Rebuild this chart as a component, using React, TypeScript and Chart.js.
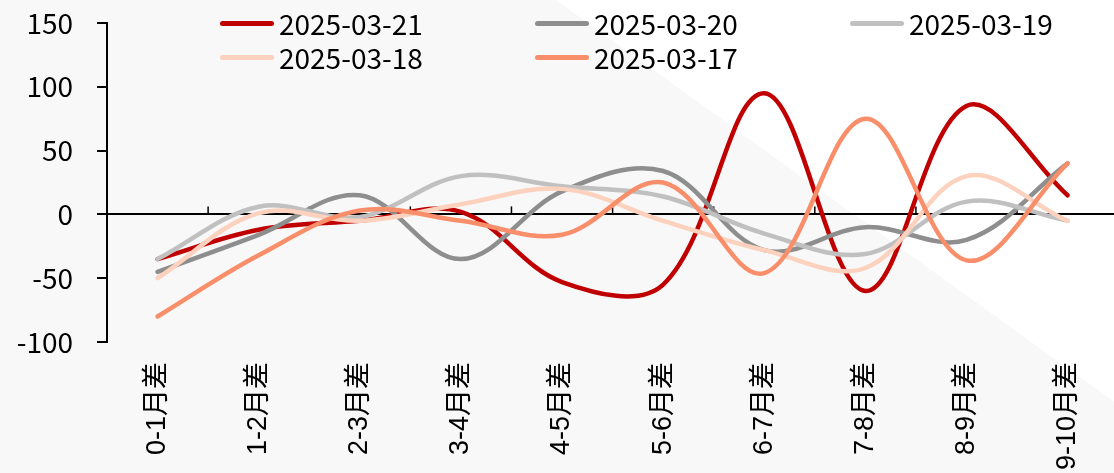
import React, { useEffect, useRef } from 'react';
import Chart from 'chart.js/auto';

// Month-spread categories along the x axis
const categories = ['0-1月差', '1-2月差', '2-3月差', '3-4月差', '4-5月差', '5-6月差', '6-7月差', '7-8月差', '8-9月差', '9-10月差'];

// One series per trading date
const seriesLabels = ['2025-03-21', '2025-03-20', '2025-03-19', '2025-03-18', '2025-03-17'];
const spread0321 = [-35, -12, -5, 2, -53, -55, 95, -60, 85, 15];
const spread0320 = [-45, -16, 15, -35, 18, 34, -28, -10, -20, 40];
const spread0319 = [-35, 6, -2, 30, 22, 14, -15, -31, 10, -5];
const spread0318 = [-50, 1, -5, 8, 20, -5, -28, -42, 30, -5];
const spread0317 = [-80, -32, 3, -5, -16, 25, -46, 75, -36, 40];
const seriesValues = [spread0321, spread0320, spread0319, spread0318, spread0317];

// Value axis range
const yMin = -100;
const yMax = 150;
const yStep = 50;

const seriesColors = ['#C00000', '#8E8E8E', '#C0C0C0', '#FCD1BD', '#F98E6A'];

const NUM_FONT = '"Noto Sans CJK SC", "Noto Sans", sans-serif';
const CAT_FONT = '"Liberation Sans", "Noto Sans CJK SC", sans-serif';

const CANVAS_W = 1120;
const CANVAS_H = 473;

// Soft two-tone backdrop: white sheet with a pale grey wedge on the left/bottom
const backdropPlugin = {
  id: 'backdrop',
  beforeDraw(chart: any) {
    const { ctx, width, height } = chart;
    ctx.save();
    ctx.fillStyle = '#ffffff';
    ctx.fillRect(0, 0, width, height);
    ctx.fillStyle = '#f8f8f8';
    ctx.beginPath();
    ctx.moveTo(0, 0);
    ctx.lineTo(556, 0);
    ctx.lineTo(width, 0.72 * (width - 556));
    ctx.lineTo(width, height);
    ctx.lineTo(0, height);
    ctx.closePath();
    ctx.fill();
    ctx.restore();
  },
};

// Small upward tick marks on the zero line between categories
const zeroTicksPlugin = {
  id: 'zeroTicks',
  beforeDatasetsDraw(chart: any) {
    const { ctx } = chart;
    const xs = chart.scales.x;
    const ys = chart.scales.y;
    const y0 = ys.getPixelForValue(0);
    ctx.save();
    ctx.strokeStyle = '#000';
    ctx.lineWidth = 1.5;
    for (let i = 0; i <= categories.length; i++) {
      const px = xs.getPixelForValue(i - 0.5);
      ctx.beginPath();
      ctx.moveTo(px, y0);
      ctx.lineTo(px, y0 - 8);
      ctx.stroke();
    }
    ctx.restore();
  },
};

// Three-column legend laid over the top of the plot
const gridLegendPlugin = {
  id: 'gridLegend',
  afterDraw(chart: any) {
    const { ctx } = chart;
    const cols = 3;
    const left = 220;
    const colW = 315;
    const top = 23.5;
    const rowH = 34;
    const lineLen = 54;
    ctx.save();
    ctx.font = `28px ${NUM_FONT}`;
    ctx.textBaseline = 'middle';
    ctx.textAlign = 'left';
    chart.data.datasets.forEach((ds: any, i: number) => {
      const cx = left + (i % cols) * colW;
      const cy = top + Math.floor(i / cols) * rowH;
      ctx.strokeStyle = ds.borderColor;
      ctx.lineWidth = 5;
      ctx.lineCap = 'round';
      ctx.beginPath();
      ctx.moveTo(cx + 2.5, cy);
      ctx.lineTo(cx + lineLen - 2.5, cy);
      ctx.stroke();
      ctx.fillStyle = '#000';
      ctx.fillText(ds.label, cx + lineLen + 5, cy + 1);
    });
    ctx.restore();
  },
};

export default function App() {
  const canvasRef = useRef<HTMLCanvasElement>(null);

  useEffect(() => {
    document.body.style.margin = '0';
    const canvas = canvasRef.current;
    if (!canvas) return;

    const chart = new Chart(canvas, {
      type: 'line',
      data: {
        labels: categories,
        datasets: seriesValues.map((vals, i) => ({
          label: seriesLabels[i],
          data: vals,
          borderColor: seriesColors[i],
          backgroundColor: seriesColors[i],
          borderWidth: 4.5,
          borderCapStyle: 'round' as const,
          borderJoinStyle: 'round' as const,
          pointRadius: 0,
          pointHoverRadius: 0,
          tension: 0.36,
          fill: false,
          // later dates sit underneath, the earliest date is drawn last
          order: seriesValues.length - i,
        })),
      },
      options: {
        responsive: false,
        animation: false,
        devicePixelRatio: 1,
        layout: { padding: { top: 23, left: 0, right: 0, bottom: 0 } },
        plugins: {
          legend: { display: false },
          tooltip: { enabled: false },
        },
        scales: {
          x: {
            type: 'category',
            offset: true,
            grid: { display: false, drawTicks: false },
            border: { display: false },
            ticks: {
              autoSkip: false,
              minRotation: 90,
              maxRotation: 90,
              padding: 20,
              color: '#000',
              font: { family: CAT_FONT, size: 27 },
            },
            afterFit(scale: any) {
              scale.height = 131;
            },
          },
          y: {
            min: yMin,
            max: yMax,
            ticks: {
              stepSize: yStep,
              padding: 24,
              color: '#000',
              font: { family: NUM_FONT, size: 28 },
            },
            grid: {
              color: (c: any) => (c.tick && c.tick.value === 0 ? '#000' : 'rgba(0,0,0,0)'),
              lineWidth: 2,
              tickColor: '#000',
              tickLength: 10,
              tickWidth: 2,
            },
            border: { display: true, color: '#000', width: 2 },
            afterFit(scale: any) {
              scale.width = 107;
              // the top padding comes from layout.padding instead
              scale.paddingTop = 0;
              scale.paddingBottom = 0;
            },
          },
        },
      },
      plugins: [backdropPlugin, zeroTicksPlugin, gridLegendPlugin],
    });

    return () => chart.destroy();
  }, []);

  return (
    <div
      style={{
        position: 'fixed',
        left: 0,
        top: 0,
        width: 1114,
        height: 473,
        overflow: 'hidden',
        background: '#fff',
      }}
    >
      <canvas
        ref={canvasRef}
        width={CANVAS_W}
        height={CANVAS_H}
        style={{ display: 'block', width: CANVAS_W, height: CANVAS_H }}
      />
    </div>
  );
}
